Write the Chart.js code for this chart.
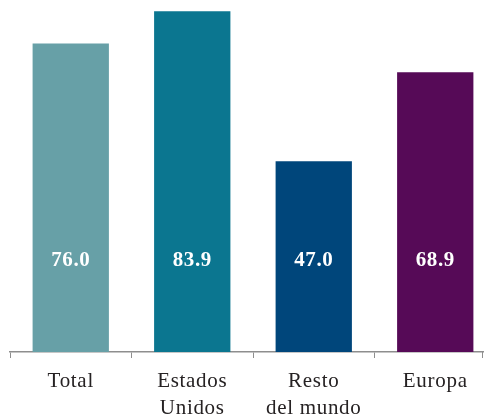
<!DOCTYPE html>
<html>
<head>
<meta charset="utf-8">
<script src="https://cdn.jsdelivr.net/npm/chart.js@4/dist/chart.umd.min.js"></script>
<style>
    html, body { margin: 0; padding: 0; background: #ffffff; overflow: hidden; }
    #wrap { width: 496px; height: 414px; }
</style>
</head>
<body>
<div id="wrap"><canvas id="barChart"></canvas></div>
<script>
// Chart data
const categories = [['Total'], ['Estados', 'Unidos'], ['Resto', 'del mundo'], ['Europa']];
const values = [76.0, 83.9, 47.0, 68.9];
const barColors = ['#67a0a7', '#0b7690', '#00467b', '#560a57'];
const yMax = 86.7;
const labelLevel = 22.5;   // value at which the numbers inside the bars sit

const axisGray = '#8e8e8e';
const serif = "'Liberation Serif', 'Times New Roman', serif";

// the reference face is wider than Liberation Serif, open it up a little
const spacing = {
    id: 'spacing',
    beforeDraw(chart) {
        chart.ctx.letterSpacing = '0.7px';
    }
};

// draws the numbers inside the bars and the end tick at the right edge
const barLabels = {
    id: 'barLabels',
    afterDatasetsDraw(chart) {
        const ctx = chart.ctx;
        const yScale = chart.scales.y;
        const xScale = chart.scales.x;
        const meta = chart.getDatasetMeta(0);
        ctx.save();
        ctx.letterSpacing = '0.6px';
        ctx.fillStyle = '#ffffff';
        ctx.font = `bold 21px ${serif}`;
        ctx.textAlign = 'center';
        ctx.textBaseline = 'middle';
        meta.data.forEach((bar, i) => {
            ctx.fillText(values[i].toFixed(1), bar.x, yScale.getPixelForValue(labelLevel));
        });
        // axis is cut by the window edge, so close it with a tick there
        const edge = document.body.clientWidth - 1.5;
        ctx.strokeStyle = axisGray;
        ctx.lineWidth = 1;
        ctx.beginPath();
        ctx.moveTo(edge, xScale.top);
        ctx.lineTo(edge, xScale.top + 6);
        ctx.stroke();
        ctx.restore();
    }
};

const ctx = document.getElementById('barChart').getContext('2d');
new Chart(ctx, {
    type: 'bar',
    data: {
        labels: categories,
        datasets: [{
            data: values,
            backgroundColor: barColors,
            borderWidth: 0,
            barPercentage: 0.628,
            categoryPercentage: 1.0
        }]
    },
    options: {
        responsive: true,
        maintainAspectRatio: false,
        animation: false,
        layout: {
            padding: { left: 10, right: 0, top: 0, bottom: 0 }
        },
        plugins: {
            legend: { display: false },
            tooltip: { enabled: false }
        },
        scales: {
            x: {
                offset: true,
                afterFit: (scale) => { scale.height = 62; },
                grid: {
                    offset: true,
                    drawOnChartArea: false,
                    drawTicks: true,
                    tickLength: 6,
                    color: axisGray,
                    lineWidth: 1
                },
                border: {
                    display: true,
                    color: axisGray,
                    width: 1.5
                },
                ticks: {
                    color: '#262223',
                    padding: 10,
                    maxRotation: 0,
                    autoSkip: false,
                    font: { family: serif, size: 21, lineHeight: 1.27 }
                }
            },
            y: {
                display: false,
                min: 0,
                max: yMax
            }
        }
    },
    plugins: [spacing, barLabels]
});
</script>
</body>
</html>
